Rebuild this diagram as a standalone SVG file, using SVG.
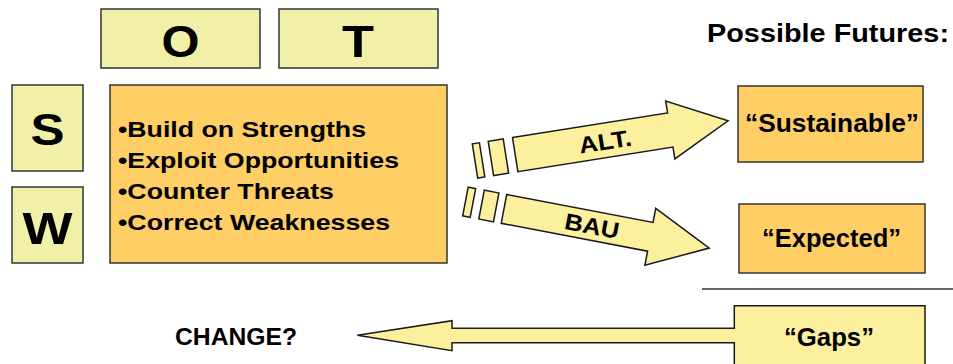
<svg xmlns="http://www.w3.org/2000/svg" width="953" height="364" viewBox="0 0 953 364">
<style>
.swot{fill:#F0F0A8;stroke:#333;stroke-width:1.5}
.main{fill:#FFCF66;stroke:#333;stroke-width:1.5}
.arr{fill:#FCEF9E;stroke:#1a1a1a;stroke-width:1.5;stroke-linejoin:miter}
.big{font-family:"Liberation Sans",Arial,sans-serif;font-weight:bold;font-size:44px;fill:#000;text-anchor:middle}
.list{font-family:"Liberation Sans",Arial,sans-serif;font-weight:bold;font-size:22px;fill:#000}
.lab{font-family:"Liberation Sans",Arial,sans-serif;font-weight:bold;font-size:23px;fill:#000;text-anchor:middle}
.fut{font-family:"Liberation Sans",Arial,sans-serif;font-weight:bold;font-size:25px;fill:#000;text-anchor:middle}
.hdr{font-family:"Liberation Sans",Arial,sans-serif;font-weight:bold;fill:#000}
</style>
<g id="node-O"><rect class="swot" x="101" y="9" width="159" height="59"/><text class="big" x="180.5" y="57" textLength="38" lengthAdjust="spacingAndGlyphs">O</text></g>
<g id="node-T"><rect class="swot" x="279" y="9" width="159" height="59"/><text class="big" x="358" y="57" textLength="32" lengthAdjust="spacingAndGlyphs">T</text></g>
<g id="node-S"><rect class="swot" x="12" y="85" width="71" height="86"/><text class="big" x="47.5" y="145" textLength="34" lengthAdjust="spacingAndGlyphs">S</text></g>
<g id="node-W"><rect class="swot" x="12" y="187" width="71" height="76"/><text class="big" x="47.5" y="244" textLength="50" lengthAdjust="spacingAndGlyphs">W</text></g>
<g id="node-strategy">
<rect class="main" x="110" y="85" width="337" height="178"/>
<text class="list" x="118" y="137" textLength="248" lengthAdjust="spacingAndGlyphs">•Build on Strengths</text>
<text class="list" x="118" y="168" textLength="281" lengthAdjust="spacingAndGlyphs">•Exploit Opportunities</text>
<text class="list" x="118" y="199" textLength="216" lengthAdjust="spacingAndGlyphs">•Counter Threats</text>
<text class="list" x="118" y="230" textLength="272" lengthAdjust="spacingAndGlyphs">•Correct Weaknesses</text>
</g>
<g id="title"><text class="hdr" x="707" y="42" font-size="26.5" textLength="242" lengthAdjust="spacingAndGlyphs">Possible Futures:</text></g>
<g id="node-sustainable"><rect class="main" x="738" y="86" width="185" height="76"/><text class="fut" x="832" y="132" textLength="174" lengthAdjust="spacingAndGlyphs">“Sustainable”</text></g>
<g id="node-expected"><rect class="main" x="739" y="204" width="186" height="69"/><text class="fut" x="831.5" y="247" textLength="139" lengthAdjust="spacingAndGlyphs">“Expected”</text></g>
<g id="connectors">
<g id="arrow-alt" transform="translate(512.5,137.5) rotate(-9)">
<rect class="arr" x="-40.7" y="0" width="7.2" height="34.6"/>
<rect class="arr" x="-24.6" y="0" width="15.2" height="34.6"/>
<path class="arr" d="M0,0 L157,0 L157,-12 L215.5,17.3 L157,46.6 L157,34.6 L0,34.6 Z"/>
<text class="lab" x="91" y="26.5" textLength="53" lengthAdjust="spacingAndGlyphs">ALT.</text>
</g>
<g id="arrow-bau" transform="translate(506.7,194.5) rotate(10.8)">
<rect class="arr" x="-39.2" y="0" width="7.6" height="29.3"/>
<rect class="arr" x="-22.8" y="0" width="14.9" height="29.3"/>
<path class="arr" d="M0,0 L149,0 L149,-14.3 L209,14.65 L149,43.6 L149,29.3 L0,29.3 Z"/>
<text class="lab" x="89.7" y="23" textLength="55" lengthAdjust="spacingAndGlyphs">BAU</text>
</g>
<line x1="702" y1="289" x2="953" y2="289" stroke="#333" stroke-width="1.5"/>
</g>
<g id="node-gaps">
<path class="arr" d="M925,305.7 L734.3,305.7 L734.3,328.3 L452,328.3 L452,320.7 L357.4,335.3 L452,350.7 L452,342.7 L734.3,342.7 L734.3,368 L925,368 Z"/>
<text class="fut" x="829" y="346" textLength="90" lengthAdjust="spacingAndGlyphs">“Gaps”</text>
</g>
<g id="change"><text class="hdr" x="175" y="345" font-size="24" textLength="122" lengthAdjust="spacingAndGlyphs">CHANGE?</text></g>
</svg>
